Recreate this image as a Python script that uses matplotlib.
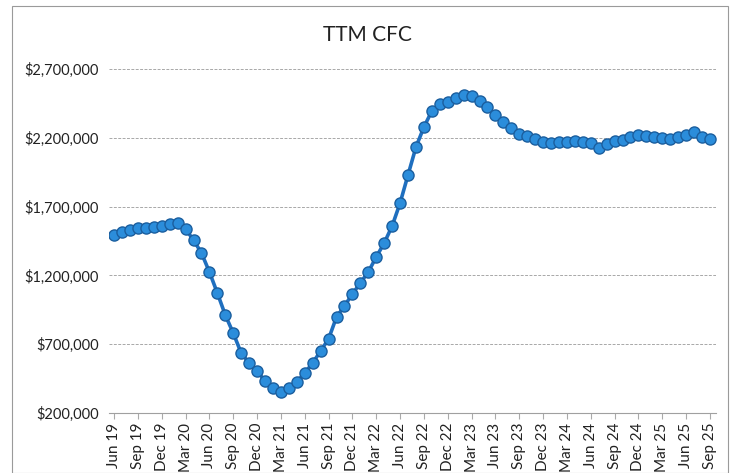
import matplotlib
matplotlib.use("Agg")
import matplotlib.pyplot as plt
from matplotlib.patches import Rectangle
from matplotlib.ticker import FuncFormatter

title = "TTM CFC"

tick_labels = ["Jun 19", "Sep 19", "Dec 19", "Mar 20", "Jun 20", "Sep 20", "Dec 20",
               "Mar 21", "Jun 21", "Sep 21", "Dec 21", "Mar 22", "Jun 22", "Sep 22",
               "Dec 22", "Mar 23", "Jun 23", "Sep 23", "Dec 23", "Mar 24", "Jun 24",
               "Sep 24", "Dec 24", "Mar 25", "Jun 25", "Sep 25"]

# monthly values, Jun 19 .. Sep 25
ttm_cfc = [
    1490000, 1515000, 1530000, 1545000, 1545000, 1552000, 1559000, 1574000, 1581000, 1537000,
    1457000, 1363000, 1225000, 1072000, 912000, 781000, 636000, 563000, 505000, 433000,
    382000, 353000, 382000, 425000, 491000, 563000, 651000, 738000, 898000, 978000,
    1065000, 1145000, 1225000, 1334000, 1435000, 1559000, 1726000, 1930000, 2133000, 2278000,
    2395000, 2446000, 2460000, 2489000, 2511000, 2504000, 2467000, 2424000, 2366000, 2315000,
    2271000, 2228000, 2213000, 2191000, 2169000, 2162000, 2169000, 2169000, 2177000, 2169000,
    2162000, 2126000, 2155000, 2177000, 2184000, 2206000, 2220000, 2213000, 2206000, 2198000,
    2191000, 2206000, 2220000, 2242000, 2206000, 2191000,
]

y_ticks = [200000, 700000, 1200000, 1700000, 2200000, 2700000]

plt.rcParams['font.family'] = ['Lato', 'DejaVu Sans']

fig = plt.figure(figsize=(7.35, 4.73), dpi=100)
W, H = 735, 473
ax = fig.add_axes([108.5 / W, (H - 413) / H, (715.5 - 108.5) / W, (413 - 69) / H])

x = list(range(len(ttm_cfc)))
ax.plot(x, ttm_cfc, color="#1f6fbf", linewidth=2.6, marker="o", markersize=8,
        markerfacecolor="#2b8ddb", markeredgecolor="#1b5e9e", markeredgewidth=1.0, zorder=3)

ax.set_xlim(-0.7, len(ttm_cfc) - 1 + 0.7)
ax.set_ylim(200000, 2700000)
ax.set_yticks(y_ticks)
ax.yaxis.set_major_formatter(FuncFormatter(lambda v, p: "${:,.0f}".format(v)))
ax.set_xticks(list(range(0, len(ttm_cfc), 3)))
ax.set_xticklabels(tick_labels, rotation=90, fontsize=11, color="#222222")
ax.tick_params(axis="y", length=0, pad=7, labelsize=10.5, labelcolor="#222222")
ax.tick_params(axis="x", length=4, color="#aaaaaa", pad=3)

ax.grid(axis="y", color="#a8a8a8", linewidth=0.7, linestyle=(0, (3, 1.5)))
for s in ["top", "right", "left"]:
    ax.spines[s].set_visible(False)
ax.spines["bottom"].set_color("#a0a0a0")
ax.spines["bottom"].set_linewidth(0.8)

fig.text(0.5, (H - 35) / H, title, ha="center", va="center", fontsize=15, color="#222222")

fig.patches.append(Rectangle((12 / W, 0), (728 - 12) / W, (H - 6) / H, transform=fig.transFigure,
                             fill=False, edgecolor="#9a9a9a", linewidth=0.8))

fig.savefig("out.png", dpi=100, facecolor="white")
